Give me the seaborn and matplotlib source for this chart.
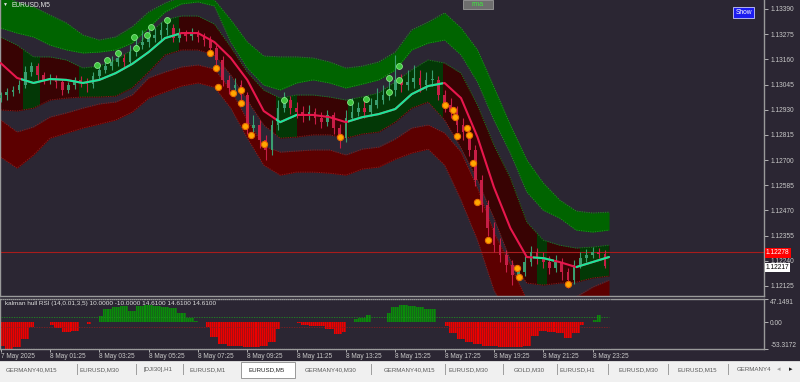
import numpy as np
import pandas as pd
import matplotlib
matplotlib.use("Agg")
import matplotlib.pyplot as plt
import seaborn as sns
from matplotlib.patches import Rectangle

# ---------------- data ----------------
band_bars = list(range(0, 297, 8))
mid = [1.13143, 1.13075, 1.13052, 1.13070, 1.13066, 1.13052, 1.13066, 1.13097, 1.13139, 1.13193,
       1.13257, 1.13280, 1.13280, 1.13239, 1.13166, 1.13066, 1.12924, 1.12873, 1.12906, 1.12906,
       1.12896, 1.12873, 1.12896, 1.12910, 1.12933, 1.13001, 1.13038, 1.13052, 1.12983, 1.12805,
       1.12576, 1.12389, 1.12257, 1.12252, 1.12234, 1.12211, 1.12234, 1.12257]
chan_top = [1.13262, 1.13225, 1.13171, 1.13171, 1.13157, 1.13120, 1.13129, 1.13157, 1.13203, 1.13276,
            1.13340, 1.13358, 1.13358, 1.13321, 1.13216, 1.13102, 1.13020, 1.12983, 1.12997, 1.12997,
            1.12988, 1.12974, 1.12988, 1.13006, 1.13056, 1.13111, 1.13157, 1.13143, 1.13097, 1.12951,
            1.12769, 1.12618, 1.12417, 1.12334, 1.12311, 1.12298, 1.12302, 1.12311]
chan_bot = [1.12929, 1.12924, 1.12937, 1.12974, 1.12983, 1.12988, 1.12988, 1.12992, 1.13029, 1.13102,
            1.13180, 1.13203, 1.13203, 1.13180, 1.13088, 1.12974, 1.12860, 1.12800, 1.12805, 1.12815,
            1.12815, 1.12800, 1.12819, 1.12828, 1.12873, 1.12937, 1.12965, 1.12883, 1.12755, 1.12608,
            1.12435, 1.12243, 1.12138, 1.12129, 1.12138, 1.12142, 1.12161, 1.12170]
up_top = [1.13454, 1.13422, 1.13399, 1.13362, 1.13326, 1.13271, 1.13248, 1.13262, 1.13308, 1.13376,
          1.13417, 1.13445, 1.13454, 1.13431, 1.13340, 1.13239, 1.13175, 1.13171, 1.13171, 1.13166,
          1.13148, 1.13120, 1.13129, 1.13148, 1.13193, 1.13294, 1.13330, 1.13372, 1.13303, 1.13203,
          1.13033, 1.12860, 1.12700, 1.12595, 1.12517, 1.12467, 1.12458, 1.12462]
up_bot = [1.13303, 1.13280, 1.13262, 1.13225, 1.13203, 1.13189, 1.13193, 1.13203, 1.13234, 1.13303,
          1.13376, 1.13413, 1.13422, 1.13404, 1.13239, 1.13120, 1.13043, 1.13020, 1.13052, 1.13066,
          1.13052, 1.13029, 1.13047, 1.13066, 1.13111, 1.13203, 1.13234, 1.13248, 1.13180, 1.13056,
          1.12883, 1.12732, 1.12554, 1.12471, 1.12435, 1.12380, 1.12371, 1.12380]
dn_top = [1.12883, 1.12828, 1.12851, 1.12896, 1.12915, 1.12937, 1.12956, 1.12965, 1.12997, 1.13075,
          1.13102, 1.13125, 1.13134, 1.13116, 1.13020, 1.12883, 1.12764, 1.12736, 1.12741, 1.12746,
          1.12746, 1.12723, 1.12750, 1.12759, 1.12796, 1.12846, 1.12860, 1.12823, 1.12736, 1.12572,
          1.12371, 1.12220, 1.12060, 1.12014, 1.12037, 1.12074, 1.12119, 1.12151]
dn_bot = [1.12714, 1.12663, 1.12723, 1.12800, 1.12823, 1.12846, 1.12864, 1.12883, 1.12919, 1.12983,
          1.13011, 1.13038, 1.13052, 1.13033, 1.12937, 1.12800, 1.12677, 1.12631, 1.12645, 1.12645,
          1.12640, 1.12631, 1.12659, 1.12668, 1.12704, 1.12732, 1.12750, 1.12677, 1.12517, 1.12334,
          1.12106, 1.11969, 1.11923, 1.11877, 1.11900, 1.11923, 1.11969, 1.11991]

candle_bars = list(range(0, 295, 3))
open_first = 1.12983
close = [1.12997, 1.13011, 1.13020, 1.13043, 1.13102, 1.13129, 1.13088, 1.13066, 1.13075, 1.13056,
         1.13020, 1.13043, 1.13066, 1.13056, 1.13047, 1.13084, 1.13111, 1.13129, 1.13148, 1.13166,
         1.13148, 1.13193, 1.13225, 1.13239, 1.13257, 1.13271, 1.13294, 1.13303, 1.13257, 1.13276,
         1.13266, 1.13280, 1.13262, 1.13248, 1.13212, 1.13157, 1.13066, 1.13029, 1.13043, 1.12997,
         1.12846, 1.12860, 1.12792, 1.12746, 1.12860, 1.12937, 1.12974, 1.12937, 1.12919, 1.12906,
         1.12919, 1.12892, 1.12873, 1.12906, 1.12846, 1.12800, 1.12892, 1.12919, 1.12937, 1.12919,
         1.12951, 1.12974, 1.12997, 1.13020, 1.13066, 1.13043, 1.13056, 1.13075, 1.13043, 1.13066,
         1.13066, 1.12997, 1.12951, 1.12919, 1.12860, 1.12828, 1.12746, 1.12608, 1.12494, 1.12389,
         1.12311, 1.12266, 1.12220, 1.12174, 1.12188, 1.12234, 1.12279, 1.12252, 1.12234, 1.12206,
         1.12234, 1.12188, 1.12151, 1.12220, 1.12252, 1.12266, 1.12279, 1.12270, 1.12217]
high = [1.13011, 1.13029, 1.13038, 1.13066, 1.13129, 1.13148, 1.13143, 1.13102, 1.13093, 1.13088,
        1.13070, 1.13056, 1.13079, 1.13084, 1.13075, 1.13102, 1.13129, 1.13157, 1.13175, 1.13203,
        1.13184, 1.13225, 1.13271, 1.13294, 1.13317, 1.13303, 1.13330, 1.13353, 1.13321, 1.13303,
        1.13294, 1.13303, 1.13294, 1.13280, 1.13266, 1.13225, 1.13175, 1.13088, 1.13075, 1.13066,
        1.13011, 1.12906, 1.12883, 1.12815, 1.12883, 1.12974, 1.13011, 1.12992, 1.12965, 1.12947,
        1.12951, 1.12937, 1.12919, 1.12929, 1.12919, 1.12864, 1.12929, 1.12983, 1.12965, 1.12974,
        1.12983, 1.13029, 1.13043, 1.13075, 1.13180, 1.13093, 1.13111, 1.13134, 1.13111, 1.13102,
        1.13111, 1.13084, 1.13020, 1.12983, 1.12947, 1.12892, 1.12846, 1.12769, 1.12631, 1.12517,
        1.12417, 1.12343, 1.12289, 1.12243, 1.12215, 1.12261, 1.12307, 1.12298, 1.12279, 1.12261,
        1.12266, 1.12252, 1.12206, 1.12243, 1.12279, 1.12293, 1.12302, 1.12298, 1.12289]
low = [1.12965, 1.12974, 1.12992, 1.13006, 1.13029, 1.13084, 1.13066, 1.13047, 1.13047, 1.13029,
       1.12997, 1.13006, 1.13024, 1.13033, 1.13011, 1.13029, 1.13070, 1.13097, 1.13111, 1.13129,
       1.13125, 1.13134, 1.13175, 1.13207, 1.13216, 1.13239, 1.13248, 1.13271, 1.13239, 1.13239,
       1.13244, 1.13248, 1.13239, 1.13221, 1.13193, 1.13129, 1.13038, 1.13001, 1.13011, 1.12974,
       1.12819, 1.12828, 1.12755, 1.12700, 1.12723, 1.12837, 1.12919, 1.12910, 1.12892, 1.12873,
       1.12883, 1.12864, 1.12846, 1.12855, 1.12819, 1.12755, 1.12782, 1.12883, 1.12901, 1.12892,
       1.12901, 1.12937, 1.12956, 1.12974, 1.12992, 1.13011, 1.13020, 1.13029, 1.13011, 1.13020,
       1.13038, 1.12974, 1.12919, 1.12892, 1.12828, 1.12792, 1.12718, 1.12581, 1.12462, 1.12352,
       1.12279, 1.12234, 1.12188, 1.12129, 1.12151, 1.12170, 1.12215, 1.12225, 1.12206, 1.12179,
       1.12188, 1.12151, 1.12115, 1.12133, 1.12206, 1.12234, 1.12252, 1.12252, 1.12206]

# trend of the kalman line / channel shading: (start bar, end bar, direction)
trend_segments = [(0, 10, -1), (10, 87, 1), (87, 134, -1), (134, 144, 1), (144, 169, -1),
                  (169, 215, 1), (215, 259, -1), (259, 269, 1), (269, 280, -1), (280, 297, 1)]
shade_segments = [(0, 11, -1), (11, 19, 1), (19, 38, -1), (38, 87, 1), (87, 134, -1), (134, 144, 1),
                  (144, 169, -1), (169, 215, 1), (215, 261, -1), (261, 266, 1), (266, 282, -1), (282, 297, 1)]

orange_bars = [102, 105, 106, 113, 117, 117, 119, 122, 128, 165, 216, 220, 221, 222, 227, 228,
               230, 232, 237, 251, 252, 276]
orange_price = [1.13189, 1.13120, 1.13033, 1.13006, 1.13020, 1.12960, 1.12855, 1.12815, 1.12773,
                1.12805, 1.12951, 1.12929, 1.12896, 1.12810, 1.12846, 1.12815, 1.12686, 1.12508,
                1.12334, 1.12206, 1.12165, 1.12133]
green_bars = [47, 52, 57, 65, 66, 71, 73, 81, 138, 170, 178, 189, 189, 194, 194]
green_price = [1.13134, 1.13157, 1.13189, 1.13262, 1.13212, 1.13271, 1.13308, 1.13340, 1.12974,
               1.12965, 1.12979, 1.13011, 1.13075, 1.13066, 1.13129]

hist_bars = list(range(0, 293, 4))
hist_vals = [-47, -53, -50, -33, -10, 3, -5, -12, -20, -17,
             0, -3, 12, 28, 32, 33, 23, 33, 35, 33,
             32, 30, 20, 8, 3, -10, -30, -43, -47, -48,
             -50, -50, -48, -40, -13, 7, -1, -5, -8, -7,
             -13, -23, -20, 7, 8, 15, -1, 20, 32, 35,
             33, 31, 28, 28, -7, -21, -33, -40, -43, -47,
             -48, -50, -50, -50, -47, -27, -17, -19, -21, -32,
             -21, -5, 5, 15]

price_ticks = [1.13390, 1.13275, 1.13160, 1.13045, 1.12930, 1.12815, 1.12700, 1.12585,
               1.12470, 1.12355, 1.12240, 1.12125]
time_tick_bars = list(range(0, 289, 24))
time_labels = ['7 May 2025', '8 May 01:25', '8 May 03:25', '8 May 05:25', '8 May 07:25',
               '8 May 09:25', '8 May 11:25', '8 May 13:25', '8 May 15:25', '8 May 17:25',
               '8 May 19:25', '8 May 21:25', '8 May 23:25']
line_price = 1.12278
bid_price = 1.12217
ind_levels = [10.0, -10.0]
ind_ticks = [47.1491, 0.0, -53.3172]
ind_tick_labels = ['47.1491', '0.00', '-53.3172']
ind_title = 'kalman hull RSI (14,0.01,3,5) 10.0000 -10.0000 14.6100 14.6100 14.6100'
tab_labels = ['GERMANY40,M15', 'EURUSD,M30', '[DJI30],H1', 'EURUSD,M1', 'EURUSD,M5',
              'GERMANY40,M30', 'GERMANY40,M15', 'EURUSD,M30', 'GOLD,M30', 'EURUSD,H1',
              'EURUSD,M30', 'EURUSD,M15', 'GERMANY4']
active_tab_index = 4

# ---------------- style ----------------
BG = '#2b2633'
sns.set_theme(style="dark", rc={"axes.facecolor": BG, "figure.facecolor": BG})
plt.rcParams['font.family'] = ['Liberation Sans', 'DejaVu Sans']

W, H = 800, 382
def fx(px):
    return px / W
def fy(py):
    return 1 - py / H

fig = plt.figure(figsize=(8, 3.82), dpi=100)
ax = fig.add_axes([0, fy(296), fx(764), 296 / H])
ia = fig.add_axes([0, fy(349), fx(764), 50 / H])
for a in (ax, ia):
    a.set_facecolor(BG)
    a.set_xlim(-0.3, 371.4)
    a.grid(False)
    for s in a.spines.values():
        s.set_color('#9a9a9a')
        s.set_linewidth(1.0)
ax.spines['top'].set_visible(False)
ax.set_ylim(1.12079, 1.13431)
ia.set_ylim(ind_ticks[2], ind_ticks[0])

bb = np.array(band_bars)
# outer bands
ax.fill_between(bb, up_bot, up_top, color='#006400', lw=0, zorder=1)
ax.fill_between(bb, dn_bot, dn_top, color='#5c0000', lw=0, zorder=1)
# channel with trend shading
chan = ax.fill_between(bb, chan_bot, chan_top, color='#380303', lw=0, zorder=1.5)
chan_path = chan.get_paths()[0]
for s, e, d in shade_segments:
    if d > 0:
        r = Rectangle((s, 1.10), e - s, 0.05, facecolor='#033806', lw=0, zorder=1.6)
        ax.add_patch(r)
        r.set_clip_path(chan_path, ax.transData)

# dotted edges
for ys, col in [(up_top, '#1f8f1f'), (up_bot, '#1f8f1f'), (chan_top, '#1d7a1d'),
                (chan_bot, '#8a1d1d'), (dn_top, '#8a1d1d'), (dn_bot, '#8a1d1d')]:
    sns.lineplot(x=bb, y=ys, ax=ax, color=col, lw=0.7, linestyle=(0, (1.2, 1.2)), zorder=2)

ax.axhline(line_price, color='#a81c1c', lw=0.8, zorder=2.5)

# candles
cb = np.array(candle_bars)
c = np.array(close)
o = np.concatenate([[open_first], c[:-1]])
cols = np.where(c >= o, '#3a9e70', '#c81e46')
ax.vlines(cb, low, high, colors=cols, lw=0.8, zorder=3)
ax.bar(cb, np.maximum(np.abs(c - o), 0.00003), bottom=np.minimum(o, c), width=1.3,
       color=cols, lw=0, zorder=3.2)

# kalman line
ax.plot(bb, mid, color='#e8174d', lw=1.5, zorder=4, solid_capstyle='round')
for s, e, d in trend_segments:
    if d > 0:
        ln, = ax.plot(bb, mid, color='#19e89a', lw=1.5, zorder=4.1)
        ln.set_clip_path(Rectangle((s, 1.10), e - s, 0.05, transform=ax.transData))

# signal markers
ax.scatter(orange_bars, orange_price, s=20, facecolor='#ffa800', edgecolor='#e86a00', lw=0.8, zorder=5)
ax.scatter(green_bars, green_price, s=18, facecolor='#3ec43e', edgecolor='#86e886', lw=0.6, zorder=5)

# price axis
ax.yaxis.tick_right()
ax.set_yticks(price_ticks)
ax.set_yticklabels([f'{p:.5f}' for p in price_ticks])
ax.tick_params(axis='y', right=True, left=False, length=3, width=0.6, colors='#c8c8c8',
               labelsize=4.8, pad=1.5, direction='out')
ax.tick_params(axis='x', bottom=False, labelbottom=False)
ax.set_xlabel('')
ax.set_ylabel('')

# ---------------- indicator panel ----------------
hb = np.array(hist_bars)
hv = np.array(hist_vals, dtype=float)
ia.fill_between(hb, hv, 0, where=hv >= 0, step='mid', color='#0a8a0a', lw=0, zorder=2)
ia.fill_between(hb, hv, 0, where=hv <= 0, step='mid', color='#ee0000', lw=0, zorder=2)
ia.vlines(np.arange(0, 297) + 0.5, -60, 60, color=BG, lw=0.55, alpha=0.45, zorder=3)
ia.hlines(ind_levels[0], 0, 296, color='#1f8f1f', lw=0.6, linestyle=(0, (1.5, 1.5)), zorder=4)
ia.hlines(ind_levels[1], 0, 296, color='#8a1d1d', lw=0.6, linestyle=(0, (1.5, 1.5)), zorder=4)
ia.yaxis.tick_right()
ia.set_yticks(ind_ticks)
ia.set_yticklabels(ind_tick_labels)
ia.tick_params(axis='y', right=True, left=False, length=3, width=0.6, colors='#c8c8c8',
               labelsize=4.8, pad=1.5)
yl = ia.get_yticklabels()
yl[0].set_va('top')
yl[2].set_va('bottom')
ia.set_xticks(time_tick_bars)
ia.set_xticklabels(time_labels, ha='left')
ia.tick_params(axis='x', bottom=True, length=2, width=0.6, colors='#c8c8c8', labelsize=4.7, pad=1)
ia.set_xlabel('')
ia.set_ylabel('')

# ---------------- texts & widgets ----------------
fig.text(fx(3), fy(4.5), '\u25bc', color='#e8e8e8', fontsize=3.6, va='center', ha='left')
fig.text(fx(11), fy(4.5), 'EURUSD,M5', color='#e8e8e8', fontsize=4.8, va='center', ha='left')
fig.text(fx(5), fy(303), ind_title, color='#e0e0e0', fontsize=4.6, va='center', ha='left')

fig.add_artist(Rectangle((fx(463), fy(9)), fx(30), 9 / H, transform=fig.transFigure,
                         facecolor='#6e6e6e', edgecolor='#9a9a9a', lw=0.6))
fig.text(fx(478), fy(4.5), 'rma', color='#3ee83e', fontsize=5, va='center', ha='center')
fig.add_artist(Rectangle((fx(733), fy(18)), fx(21), 11 / H, transform=fig.transFigure,
                         facecolor='#1c1cf0', edgecolor='#c8c8ff', lw=0.6))
fig.text(fx(743.5), fy(12.5), 'Show', color='white', fontsize=4.8, va='center', ha='center')

# current price labels
fig.text(fx(766), fy(253), f'{line_price:.5f}', color='white', fontsize=4.8, va='center', ha='left',
         bbox=dict(facecolor='#ff0000', edgecolor='none', pad=0.8))
fig.text(fx(766), fy(267.5), f'{bid_price:.5f}', color='black', fontsize=4.8, va='center', ha='left',
         bbox=dict(facecolor='white', edgecolor='none', pad=0.6))

# tab bar
fig.add_artist(Rectangle((0, 0), 1, 20 / H, transform=fig.transFigure, facecolor='#f0f0f0', lw=0))
fig.add_artist(Rectangle((0, 20 / H), 1, 1 / H, transform=fig.transFigure, facecolor='#d6d6d6', lw=0))
tab_centers = [32, 99, 158, 207.5, 267, 331, 410, 468, 529, 577.5, 638.5, 697.5, 754]
separators = [77, 136, 183, 371, 445, 503, 557, 608, 668, 728]
fig.add_artist(Rectangle((fx(241), fy(378)), fx(54), 16 / H, transform=fig.transFigure,
                         facecolor='white', edgecolor='#8a8a8a', lw=0.6))
for i, (lab, cx) in enumerate(zip(tab_labels, tab_centers)):
    fig.text(fx(cx), fy(369.5), lab, fontsize=4.4, va='center', ha='center',
             color='#202020' if i == active_tab_index else '#5a5a5a')
for sx in separators:
    fig.add_artist(Rectangle((fx(sx), fy(375)), 0.8 / W, 11 / H, transform=fig.transFigure,
                             facecolor='#a0a0a0', lw=0))
fig.add_artist(Rectangle((fx(773), fy(382)), fx(27), 20 / H, transform=fig.transFigure,
                         facecolor='#f0f0f0', lw=0))
fig.text(fx(779), fy(369.5), '\u25c2', fontsize=5, va='center', ha='center', color='#a0a0a0')
fig.text(fx(791), fy(369.5), '\u25b8', fontsize=5, va='center', ha='center', color='#202020')

fig.savefig('out.png', dpi=100, facecolor=BG)
